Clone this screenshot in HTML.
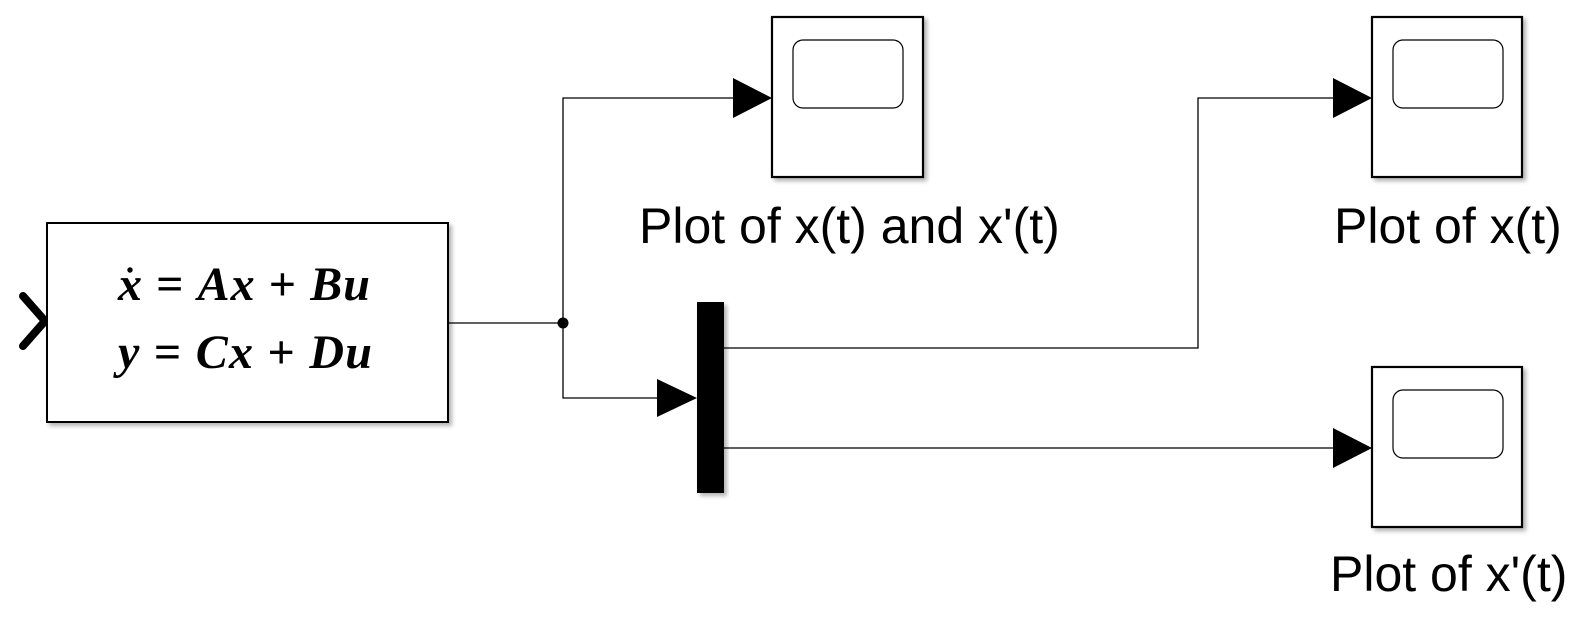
<!DOCTYPE html>
<html><head><meta charset="utf-8"><style>
html,body{margin:0;padding:0;background:#fff;}
svg{display:block;}
</style></head><body>
<svg width="1581" height="623" viewBox="0 0 1581 623" xmlns="http://www.w3.org/2000/svg">
<defs>
<filter id="sh" x="-10%" y="-10%" width="130%" height="130%">
<feDropShadow dx="3" dy="3" stdDeviation="2" flood-color="#000" flood-opacity="0.3"/>
</filter>
</defs>
<polyline points="23,296 45,321 23,346" fill="none" stroke="#000" stroke-width="8" stroke-linecap="round" stroke-linejoin="round"/>
<rect x="47" y="223" width="401" height="199" fill="#fff" stroke="#000" stroke-width="2" filter="url(#sh)"/>
<g font-family="'Liberation Serif', serif" font-weight="bold" font-size="48" fill="#000">
<text x="118" y="300" textLength="252" lengthAdjust="spacing"><tspan font-style="italic">x</tspan> = <tspan font-style="italic">Ax</tspan> + <tspan font-style="italic">Bu</tspan></text>
<text x="118" y="368" textLength="254" lengthAdjust="spacing"><tspan font-style="italic">y</tspan> = <tspan font-style="italic">Cx</tspan> + <tspan font-style="italic">Du</tspan></text>
</g>
<circle cx="130" cy="270" r="2.7" fill="#000"/>
<g stroke="#000" stroke-width="1.3" fill="none">
<polyline points="448,323 563,323"/>
<polyline points="563,323 563,98 734,98"/>
<polyline points="563,323 563,398 658,398"/>
<polyline points="724,348 1198,348 1198,98 1334,98"/>
<polyline points="724,448 1334,448"/>
</g>
<circle cx="563" cy="323" r="5.5" fill="#000"/>
<polygon points="733,78 772,98 733,118" fill="#000"/>
<polygon points="657,379 697,398 657,417" fill="#000"/>
<polygon points="1333,78 1372,98 1333,118" fill="#000"/>
<polygon points="1333,428 1372,448 1333,468" fill="#000"/>
<rect x="697" y="302" width="27" height="191" fill="#000" filter="url(#sh)"/>
<g>
<rect x="772" y="17" width="151" height="160" fill="#fff" stroke="#000" stroke-width="2.2" filter="url(#sh)"/>
<rect x="793" y="40" width="110" height="68" rx="10" fill="#fff" stroke="#000" stroke-width="1.2"/>
<rect x="1372" y="17" width="150" height="160" fill="#fff" stroke="#000" stroke-width="2.2" filter="url(#sh)"/>
<rect x="1393" y="40" width="110" height="68" rx="10" fill="#fff" stroke="#000" stroke-width="1.2"/>
<rect x="1372" y="367" width="150" height="160" fill="#fff" stroke="#000" stroke-width="2.2" filter="url(#sh)"/>
<rect x="1393" y="390" width="110" height="68" rx="10" fill="#fff" stroke="#000" stroke-width="1.2"/>
</g>
<g font-family="'Liberation Sans', Arial, sans-serif" font-size="50" fill="#000">
<text x="639" y="243">Plot of x(t) and x'(t)</text>
<text x="1334" y="243">Plot of x(t)</text>
<text x="1330" y="591">Plot of x'(t)</text>
</g>
</svg>
</body></html>
